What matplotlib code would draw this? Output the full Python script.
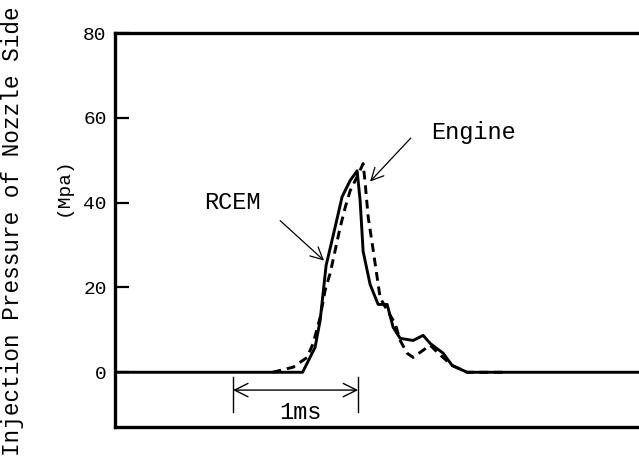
import matplotlib.pyplot as plt

# time in ms (from left edge of the frame), pressure in MPa
rcem_time = [0.0, 1.50, 1.60, 1.64, 1.688, 1.752, 1.816, 1.88, 1.936, 1.96, 1.984,
             2.04, 2.104, 2.176, 2.224, 2.28, 2.384, 2.464, 2.52, 2.624, 2.696, 2.816, 4.3]
rcem_press = [0.0, 0.0, 5.9, 12.2, 25.2, 33.2, 41.4, 45.2, 47.5, 40.5, 28.5,
              20.7, 16.0, 16.0, 10.6, 8.0, 7.5, 8.7, 6.8, 4.5, 1.6, 0.0, 0.0]

engine_time = [1.26, 1.424, 1.536, 1.584, 1.64, 1.68, 1.72, 1.76, 1.80, 1.84, 1.88,
               1.936, 1.984, 2.0, 2.024, 2.064, 2.096, 2.12, 2.176, 2.24, 2.28,
               2.336, 2.384, 2.464, 2.52, 2.584, 2.696, 2.816, 3.1]
engine_press = [0.0, 1.2, 3.5, 6.8, 12.9, 19.3, 23.3, 28.7, 34.1, 38.8, 42.8,
                46.1, 49.2, 44.7, 36.7, 28.9, 22.4, 17.6, 14.6, 11.5, 7.5,
                4.5, 3.5, 5.2, 6.4, 4.5, 1.6, 0.0, 0.0]

yticks = [0, 20, 40, 60, 80]

fig = plt.figure(figsize=(6.39, 4.63), dpi=100)
ax1 = fig.add_axes([0.18, 0.0778, 0.82, 0.8509])

ax1.plot(rcem_time, rcem_press, color='black', linewidth=2.1, linestyle='-')
ax1.plot(engine_time, engine_press, color='black', linewidth=2.1, linestyle=(0, (3, 2)))

mono = 'Liberation Mono'
font_tick = {'family': mono, 'size': 14}
font_text = {'family': mono, 'size': 17}

ax1.set_xlim(0, 4.19)
ax1.set_ylim(-12.9, 80)
ax1.set_xticks([])
ax1.set_yticks(yticks)
ax1.set_yticklabels([str(v) for v in yticks], fontdict=font_tick)
ax1.tick_params(axis='y', direction='in', length=10, width=1.6, pad=6)
for side in ['left', 'top', 'bottom']:
    ax1.spines[side].set_linewidth(2.4)
ax1.spines['right'].set_visible(False)

# labels with arrows
ax1.text(0.936, 40.0, 'RCEM', fontdict=font_text, ha='center', va='center')
ax1.annotate('', xy=(1.688, 25.9), xytext=(1.304, 36.2),
             arrowprops=dict(arrowstyle='->', lw=0.9, color='black', mutation_scale=22))
ax1.text(2.864, 56.5, 'Engine', fontdict=font_text, ha='center', va='center')
ax1.annotate('', xy=(2.024, 44.5), xytext=(2.38, 55.7),
             arrowprops=dict(arrowstyle='->', lw=0.9, color='black', mutation_scale=22))

# 1 ms scale bar
ax1.annotate('', xy=(1.944, -4.2), xytext=(0.944, -4.2),
             arrowprops=dict(arrowstyle='<->', lw=1.0, color='black', mutation_scale=24,
                             shrinkA=0, shrinkB=0))
ax1.plot([0.944, 0.944], [-1.2, -9.4], color='black', linewidth=1.0)
ax1.plot([1.944, 1.944], [-1.2, -9.4], color='black', linewidth=1.0)
ax1.text(1.48, -9.4, '1ms', fontdict=font_text, ha='center', va='center')

fig.text(0.02, 0.5, 'Injection Pressure of Nozzle Side', rotation=90,
         family=mono, size=16.3, ha='center', va='center')
fig.text(0.0986, 0.596, '(Mpa)', rotation=90, fontdict=font_tick, ha='center', va='center')

fig.savefig('out.png', dpi=100)
